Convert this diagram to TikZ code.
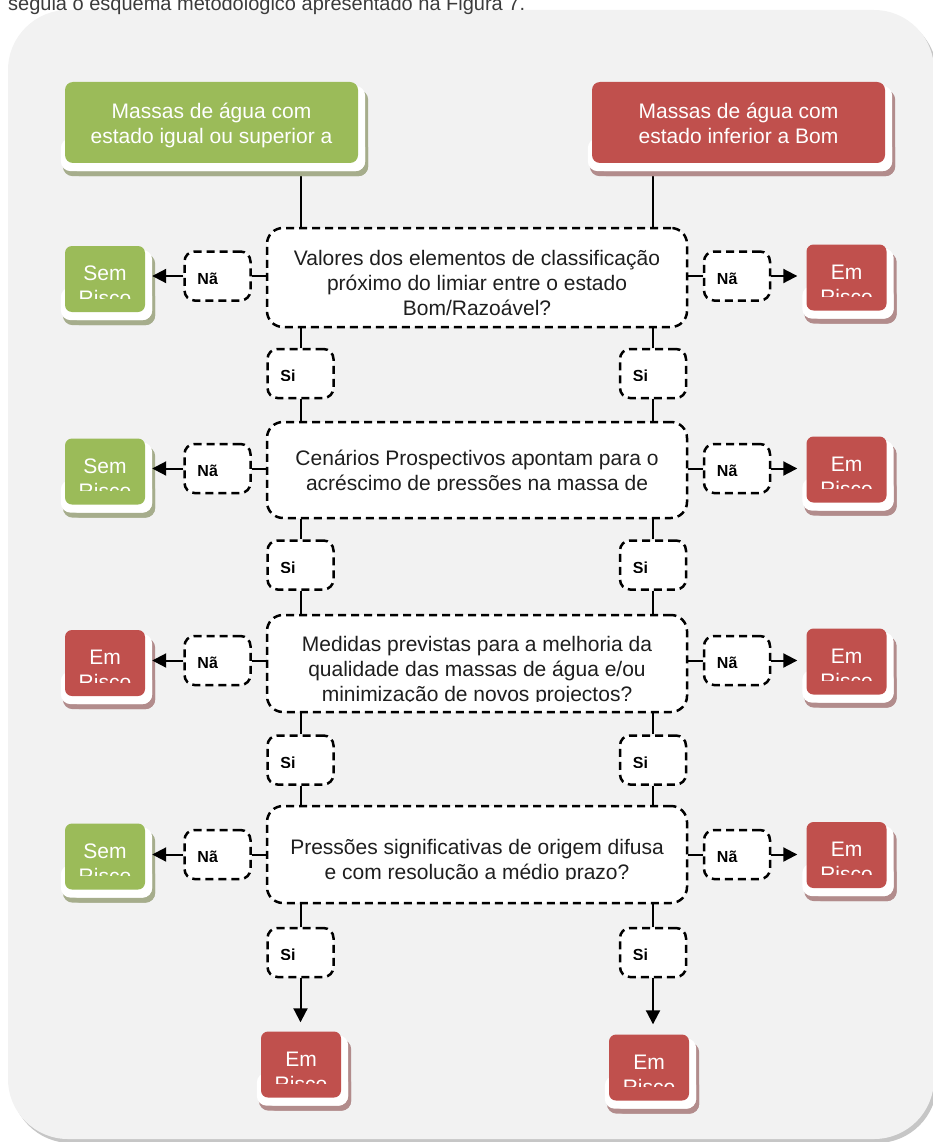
\documentclass[tikz,border=0pt]{standalone}
\usepackage{fontspec}
\setmainfont{Liberation Sans}
\usetikzlibrary{arrows.meta,calc}
\pgfdeclarelayer{bg}
\pgfdeclarelayer{shad}
\pgfsetlayers{bg,shad,main}
\definecolor{grn}{RGB}{155,187,89}
\definecolor{rd}{RGB}{192,80,77}
\definecolor{grnsh}{RGB}{166,173,140}
\definecolor{rdsh}{RGB}{178,140,140}
\definecolor{panel}{RGB}{242,242,242}
\definecolor{panelsh}{RGB}{198,198,198}
\definecolor{txt}{RGB}{30,30,30}
\definecolor{captxt}{RGB}{60,60,60}

\newcommand\frameshadow[2]{%
 \begin{pgfonlayer}{shad}
 \fill[#2,rounded corners=10pt] ([xshift=-2pt,yshift=25pt]#1.south west) rectangle ([xshift=10pt,yshift=-13pt]#1.south east);
 \fill[#2,rounded corners=10pt] ([xshift=5pt,yshift=-8pt]#1.north west) rectangle ([xshift=10pt,yshift=-13pt]#1.south east);
 \fill[white,rounded corners=10pt] ([xshift=-4pt,yshift=25pt]#1.south west) rectangle ([xshift=7pt,yshift=-8pt]#1.south east);
 \fill[white,rounded corners=10pt] ([xshift=3pt,yshift=-4pt]#1.north west) rectangle ([xshift=7pt,yshift=-8pt]#1.south east);
 \end{pgfonlayer}}

\newcommand\resbox[5]{%
 \node[resbox, fill=#4] (#1) at (#2,#3) {};
 \frameshadow{#1}{#4sh}
 \begin{scope}
 \clip ([yshift=-6pt]#1.north west) rectangle ([yshift=14pt]#1.south east);
 \node[wtext, anchor=base] (#1a) at ([yshift=-35pt]#1.north) {#5};
 \node[wtext, anchor=base] (#1b) at ([yshift=-60pt]#1.north) {Risco};
 \end{scope}}

\newcommand\labbox[3]{%
 \node[lab] (#1) at (#2) {};
 \begin{scope}
 \clip (#1.north west) rectangle ([yshift=-33pt]#1.north east);
 \node[btext] (#1t) at ([xshift=14pt,yshift=-34pt]#1.north west) {#3};
 \end{scope}}

\begin{document}
\begin{tikzpicture}[x=1pt,y=-1pt,
 conn/.style={line width=2pt, black},
 arr/.style={-{Triangle[length=14pt,width=14pt]}},
 topbox/.style={rectangle, rounded corners=8pt, minimum width=293pt, minimum height=81pt, inner sep=0pt},
 resbox/.style={rectangle, rounded corners=7pt, minimum width=80pt, minimum height=66pt, inner sep=0pt},
 decision/.style={rectangle, draw=black, fill=white, line width=2.5pt, dash pattern=on 8pt off 5pt, rounded corners=16pt, minimum width=420pt, minimum height=#1, inner sep=0pt},
 decision/.default=97pt,
 lab/.style={rectangle, draw=black, fill=white, line width=2.5pt, dash pattern=on 8pt off 5pt, rounded corners=10pt, minimum width=66pt, minimum height=49pt, inner sep=0pt},
 wtext/.style={text=white, font=\fontsize{21}{25}\selectfont, inner sep=0pt},
 dtext/.style={text=txt, font=\fontsize{21}{25}\selectfont, inner sep=0pt, anchor=base},
 btext/.style={text=black, font=\bfseries\fontsize{16}{19}\selectfont, inner sep=0pt, anchor=base west}]
\useasboundingbox (0,0) rectangle (932,1142);

% panel
\begin{pgfonlayer}{bg}
 \fill[panelsh, rounded corners=60pt] (11,14) rectangle (937,1143);
 \fill[panel, rounded corners=60pt] (8,10) rectangle (934,1139);
\end{pgfonlayer}

\node[anchor=base west, inner sep=0pt, font=\fontsize{20}{24}\selectfont, text=captxt] (cap) at (8,11) {seguia o esquema metodológico apresentado na Figura 7.};

% top boxes
\node[topbox, fill=grn] (G0) at (211.5,122.5) {};
\frameshadow{G0}{grnsh}
\node[wtext, anchor=base] (G0a) at (211.5,118.3) {Massas de água com};
\node[wtext, anchor=base] (G0b) at (211.5,143.3) {estado igual ou superior a};
\node[topbox, fill=rd] (R0) at (738.5,122.5) {};
\frameshadow{R0}{rdsh}
\node[wtext, anchor=base] (R0a) at (738.5,118.3) {Massas de água com};
\node[wtext, anchor=base] (R0b) at (738.5,143.3) {estado inferior a Bom};

% decisions
\node[decision=99pt] (D1) at (477,277.5) {};
\node[dtext] (D1a) at (477,265.5) {Valores dos elementos de classificação};
\node[dtext] (D1b) at (477,290.5) {próximo do limiar entre o estado};
\node[dtext] (D1c) at (477,315.5) {Bom/Razoável?};

\node[decision=96pt] (D2) at (477,470) {};
\begin{scope}
 \clip (260,400) rectangle (700,490.5);
 \node[dtext] (D2a) at (477,465.7) {Cenários Prospectivos apontam para o};
 \node[dtext] (D2b) at (477,490.2) {acréscimo de pressões na massa de};
\end{scope}

\node[decision=97pt] (D3) at (477,663.5) {};
\begin{scope}
 \clip (260,600) rectangle (700,701.5);
 \node[dtext] (D3a) at (477,651.7) {Medidas previstas para a melhoria da};
 \node[dtext] (D3b) at (477,676.5) {qualidade das massas de água e/ou};
 \node[dtext] (D3c) at (477,701.2) {minimização de novos projectos?};
\end{scope}

\node[decision=97pt] (D4) at (477,854.5) {};
\begin{scope}
 \clip (260,790) rectangle (700,879.5);
 \node[dtext] (D4a) at (477,854) {Pressões significativas de origem difusa};
 \node[dtext] (D4b) at (477,879) {e com resolução a médio prazo?};
\end{scope}

% No labels
\labbox{NL1}{217.5,276}{Nã}
\labbox{NL2}{217.5,468.5}{Nã}
\labbox{NL3}{217.5,660.5}{Nã}
\labbox{NL4}{217.5,854.5}{Nã}
\labbox{NR1}{737,276}{Nã}
\labbox{NR2}{737,468.5}{Nã}
\labbox{NR3}{737,660.5}{Nã}
\labbox{NR4}{737,854.5}{Nã}

% Yes labels
\labbox{SL1}{300.5,373.5}{Si}
\labbox{SL2}{300.5,565}{Si}
\labbox{SL3}{300.5,760}{Si}
\labbox{SL4}{300.5,952.5}{Si}
\labbox{SR1}{653,373.5}{Si}
\labbox{SR2}{653,565}{Si}
\labbox{SR3}{653,760}{Si}
\labbox{SR4}{653,952.5}{Si}

% result boxes
\resbox{XL1}{105}{279}{grn}{Sem}
\resbox{XL2}{105}{471.5}{grn}{Sem}
\resbox{XL3}{105}{663}{rd}{Em}
\resbox{XL4}{105}{856.5}{grn}{Sem}
\resbox{XR1}{846.5}{277.5}{rd}{Em}
\resbox{XR2}{846.5}{469.5}{rd}{Em}
\resbox{XR3}{846.5}{661.5}{rd}{Em}
\resbox{XR4}{846.5}{855}{rd}{Em}
\resbox{BL}{301}{1064.5}{rd}{Em}
\resbox{BR}{649}{1067.5}{rd}{Em}

% connectors from top boxes (behind the frames)
\begin{pgfonlayer}{bg}
 \draw[conn] (G0.south -| SL1.north) -- (D1.north -| SL1.north);
 \draw[conn] (R0.south -| SR1.north) -- (D1.north -| SR1.north);
\end{pgfonlayer}

% vertical chains
\foreach \s/\d/\n in {L1/D1/D2, L2/D2/D3, L3/D3/D4, R1/D1/D2, R2/D2/D3, R3/D3/D4}{
 \draw[conn] (\d.south -| S\s.north) -- (S\s.north);
 \draw[conn] (S\s.south) -- (S\s.south |- \n.north);
}
\draw[conn] (D4.south -| SL4.north) -- (SL4.north);
\draw[conn] (D4.south -| SR4.north) -- (SR4.north);
\draw[conn, arr] (SL4.south) -- ($(SL4.south |- BL.north)+(0,-9)$);
\draw[conn, arr] (SR4.south) -- ($(SR4.south |- BR.north)+(0,-10)$);

% side connectors
\foreach \i in {1,2,3,4}{
 \draw[conn] (D\i.west |- NL\i.east) -- (NL\i.east);
 \draw[conn, arr] (NL\i.west) -- ($(NL\i.west -| XL\i.east)+(7,0)$);
 \draw[conn] (D\i.east |- NR\i.west) -- (NR\i.west);
 \draw[conn, arr] (NR\i.east) -- ($(NR\i.east -| XR\i.west)+(-9,0)$);
}
\end{tikzpicture}
\end{document}
